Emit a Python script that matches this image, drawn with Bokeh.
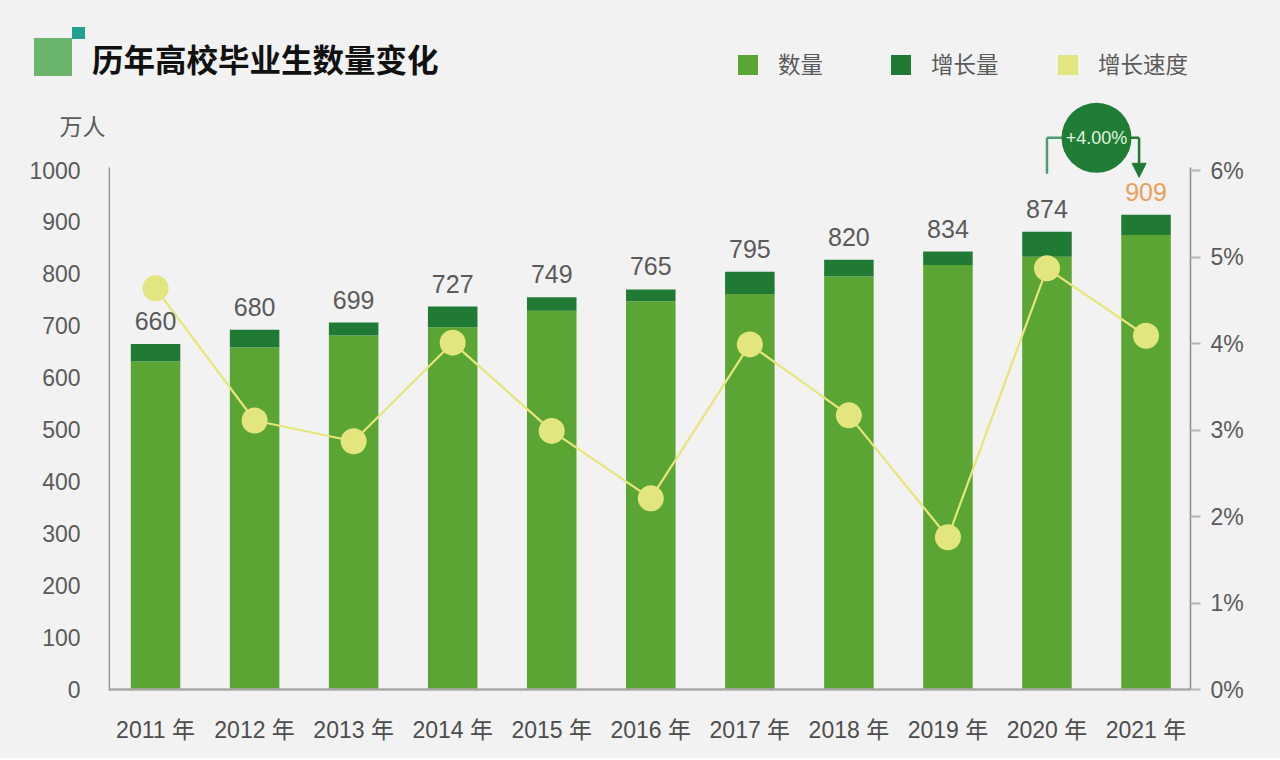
from bokeh.plotting import figure
from bokeh.models import Range1d, LinearAxis, FixedTicker, ColumnDataSource, PrintfTickFormatter, Arrow, NormalHead, Div
from bokeh.layouts import column
from bokeh.embed import file_html
from bokeh.resources import INLINE
from bokeh.core.properties import value

# ---------------- data ----------------
years = ["2011 年", "2012 年", "2013 年", "2014 年", "2015 年", "2016 年",
         "2017 年", "2018 年", "2019 年", "2020 年", "2021 年"]
graduates = [660, 680, 699, 727, 749, 765, 795, 820, 834, 874, 909]
bar_base = [632, 659, 682, 698, 730, 748, 762, 796, 818, 834, 876]
bar_increase = [34, 34, 25, 40, 26, 23, 43, 32, 26, 48, 39]
growth_rate = [4.64, 3.11, 2.87, 4.01, 2.99, 2.21, 3.99, 3.17, 1.76, 4.87, 4.09]
left_ticks = [0, 100, 200, 300, 400, 500, 600, 700, 800, 900, 1000]
right_ticks = [0, 1, 2, 3, 4, 5, 6]
legend_labels = ["数量", "增长量", "增长速度"]
title_text = "历年高校毕业生数量变化"
unit_text = "万人"
unit_tick = 1083
annotation_text = "+4.00%"

# ---------------- styles ----------------
BG = "#f2f2f2"
LIGHT = "#5aa533"
DARK = "#217a34"
LINE = "#e6e67a"
MARK = "#e3e57f"
GRAY = "#5a5a5a"
CJK = "Noto Sans CJK SC"
LAT = "Liberation Sans, Noto Sans CJK SC"

# ---------------- header (HTML) ----------------
leg_sq_x = [738, 891, 1058]
leg_tx_x = [778, 931, 1098]
leg_colors = [LIGHT, DARK, MARK]
parts = [
    f'<div style="position:relative;width:1280px;height:100px;background:{BG};font-family:\'{CJK}\';overflow:hidden;">',
    '<div style="position:absolute;left:34px;top:38px;width:38px;height:38px;background:#6bb46b;"></div>',
    '<div style="position:absolute;left:72px;top:27px;width:13px;height:12px;background:#22a090;"></div>',
    f'<div style="position:absolute;left:92px;top:38px;font-size:31.5px;line-height:40px;font-weight:bold;'
    f'color:#111;white-space:nowrap;">{title_text}</div>',
]
for sx, tx, c, lab in zip(leg_sq_x, leg_tx_x, leg_colors, legend_labels):
    parts.append(f'<div style="position:absolute;left:{sx}px;top:55px;width:20px;height:20px;background:{c};"></div>')
    parts.append(f'<div style="position:absolute;left:{tx}px;top:48px;font-size:22.5px;line-height:30px;'
                 f'color:{GRAY};white-space:nowrap;">{lab}</div>')
parts.append('</div>')
header = Div(text="".join(parts), width=1280, height=100, margin=0,
             styles={"background-color": BG})

# ---------------- main chart ----------------
xs = list(range(len(years)))
tops = [b + i for b, i in zip(bar_base, bar_increase)]
label_colors = [GRAY] * (len(years) - 1) + ["#e8a158"]
src = ColumnDataSource(dict(x=xs, base=bar_base, top=tops, rate=growth_rate,
                            label=[str(v) for v in graduates], color=label_colors))

p = figure(width=1280, height=658, x_range=Range1d(-0.475, 10.449), y_range=Range1d(0, 1135),
           output_backend="svg", toolbar_location=None, margin=0,
           min_border_left=108, min_border_right=90, min_border_top=0, min_border_bottom=69,
           background_fill_color=BG, border_fill_color=BG, outline_line_color=None,
           styles={"background-color": BG})
p.grid.visible = False

# bottom axis
xa = p.xaxis[0]
xa.ticker = FixedTicker(ticks=xs)
xa.major_label_overrides = {i: years[i] for i in xs}
xa.major_tick_line_color = None
xa.minor_tick_line_color = None
xa.axis_line_color = "#a9a9a9"
xa.axis_line_width = 2.5
xa.major_label_standoff = 21
xa.major_label_text_font = LAT
xa.major_label_text_font_size = "23px"
xa.major_label_text_color = "#4d4d4d"

# left axis (numbers padded so that the unit label sits closer to the axis)
ya = p.yaxis[0]
ya.ticker = FixedTicker(ticks=left_ticks + [unit_tick])
overrides = {t: f"{t}\u2003\u200a" for t in left_ticks}
overrides[unit_tick] = unit_text
ya.major_label_overrides = overrides
ya.major_tick_line_color = None
ya.minor_tick_line_color = None
ya.axis_line_color = None
ya.major_label_standoff = -3
ya.major_label_text_font = LAT
ya.major_label_text_font_size = "23px"
ya.major_label_text_color = GRAY
# left axis line, limited to 0..1000
p.segment(x0=[-0.4674], y0=[0], x1=[-0.4674], y1=[1006], line_color="#8a8a8a", line_width=1.5)

# right axis
p.extra_y_ranges = {"pct": Range1d(0, 1135 * 0.006)}
ra = LinearAxis(y_range_name="pct", ticker=FixedTicker(ticks=right_ticks),
                formatter=PrintfTickFormatter(format="%d%%"), bounds=(0, 6.036))
ra.axis_line_color = "#8a8a8a"
ra.axis_line_width = 1.5
ra.major_tick_line_color = "#b5b5b5"
ra.major_tick_line_width = 2
ra.major_tick_in = 0
ra.major_tick_out = 10
ra.minor_tick_line_color = None
ra.major_label_standoff = 10
ra.major_label_text_font = LAT
ra.major_label_text_font_size = "23px"
ra.major_label_text_color = GRAY
p.add_layout(ra, "right")

# bars
p.vbar(x="x", width=0.5, bottom=0, top="base", source=src, fill_color=LIGHT, line_color=None)
p.vbar(x="x", width=0.5, bottom="base", top="top", source=src, fill_color=DARK, line_color=None)

# growth-rate line
p.line(x="x", y="rate", source=src, y_range_name="pct", line_color=LINE, line_width=2.2)
p.scatter(x="x", y="rate", source=src, y_range_name="pct", size=26, fill_color=MARK, line_color=None)

# value labels
p.text(x="x", y="top", text="label", source=src, text_align="center", text_baseline="alphabetic",
       y_offset=-23, text_font=value(LAT), text_font_size=value("25px"), text_color="color")

# 2021 annotation
p.segment(x0=[9.0, 9.0], y0=[994, 1063], x1=[9.0, 9.5], y1=[1063, 1063], line_color="#4f9a72", line_width=2.5)
p.segment(x0=[9.5], y0=[1063], x1=[9.93], y1=[1063], line_color=DARK, line_width=2.5)
p.add_layout(Arrow(end=NormalHead(size=14, fill_color=DARK, line_color=DARK),
                   x_start=9.93, y_start=1063, x_end=9.93, y_end=987,
                   line_color=DARK, line_width=2.5))
p.scatter(x=[9.5], y=[1063], size=70, fill_color="#1f7d36", line_color=None)
p.text(x=[9.5], y=[1063], text=[annotation_text], text_align="center", text_baseline="middle",
       text_font=value(LAT), text_font_size=value("18px"), text_color="#e2f2df")

layout = column(header, p, spacing=0, styles={"background-color": BG})
html = file_html(layout, INLINE)
html = html.replace("<body>", f'<body style="background-color:{BG};">', 1)
open("out.html", "w").write(html)
